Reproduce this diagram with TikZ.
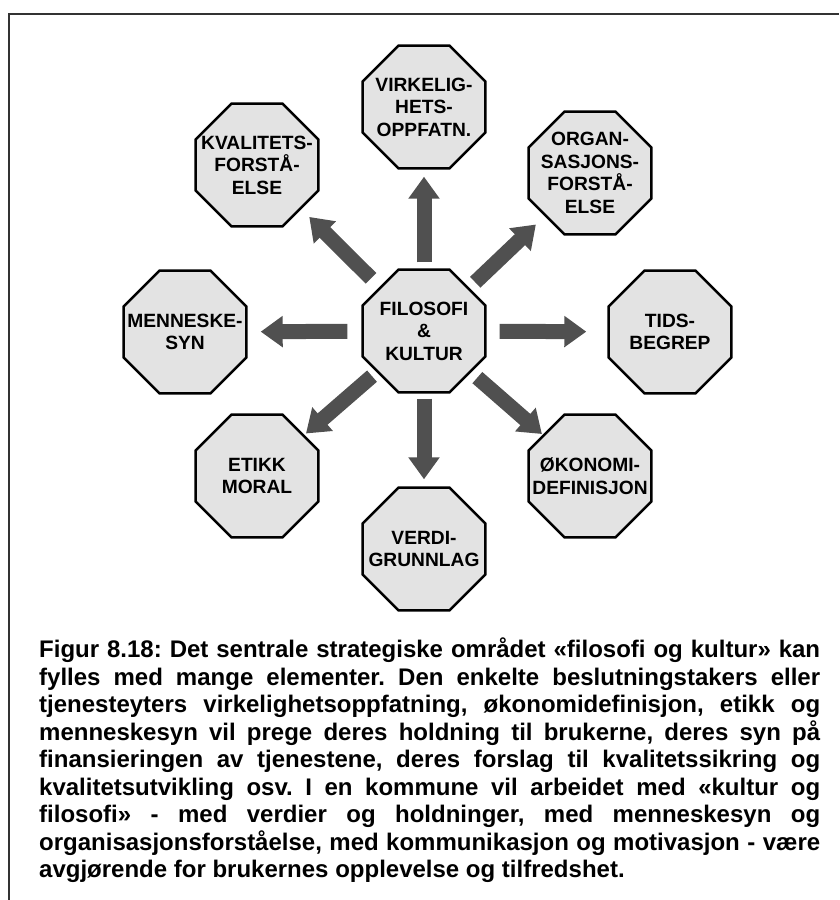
\documentclass[tikz,border=0pt]{standalone}
\usepackage{fontspec}
\setmainfont{Liberation Sans}
\usetikzlibrary{shapes.geometric,arrows.meta}
\definecolor{pilgraa}{HTML}{505050}
\definecolor{oktgraa}{HTML}{E3E3E3}
\frenchspacing
\begin{document}
\begin{tikzpicture}[x=1pt,y=-1pt,
  okt/.style={regular polygon, regular polygon sides=8, minimum size=133pt, inner sep=0pt, draw=black, line width=2.5pt, fill=oktgraa},
  etikett/.style={font=\fontsize{19.2}{22.5}\selectfont\bfseries, align=center, inner sep=0pt},
  pil/.style={draw=pilgraa, line width=15pt, -{Triangle[width=30pt,length=22pt]}},
  tekst/.style={font={\fontsize{24}{27.5}\selectfont\bfseries\tolerance=10000\hyphenpenalty=10000}, text width=781pt, align=justify, inner sep=0pt}]
\useasboundingbox (0,0) rectangle (839,900);
\draw[line width=2pt, black!80] (9,900) -- (9,14) -- (839,14);
\node[okt] (filo) at (424,331) {};
\node[okt] (virk) at (424,107) {};
\node[okt] (kval) at (257,165) {};
\node[okt] (org) at (590,173) {};
\node[okt] (menn) at (185,332) {};
\node[okt] (tids) at (670,332) {};
\node[okt] (etikk) at (257,476) {};
\node[okt] (okon) at (590,476) {};
\node[okt] (verdi) at (424,549) {};
\node[etikett] (filo-t) at (filo) {FILOSOFI\\\&\\KULTUR};
\node[etikett] (virk-t) at (virk) {VIRKELIG-\\HETS-\\OPPFATN.};
\node[etikett] (kval-t) at (kval) {KVALITETS-\\FORSTÅ-\\ELSE};
\node[etikett] (org-t) at (org) {ORGAN-\\SASJONS-\\FORSTÅ-\\ELSE};
\node[etikett] (menn-t) at (menn) {MENNESKE-\\SYN};
\node[etikett] (tids-t) at (tids) {TIDS-\\BEGREP};
\node[etikett] (etikk-t) at (etikk) {ETIKK\\MORAL};
\node[etikett] (okon-t) at (okon) {ØKONOMI-\\DEFINISJON};
\node[etikett] (verdi-t) at (verdi) {VERDI-\\GRUNNLAG};
\draw[pil, shorten <=6pt, shorten >=7pt] (filo) -- (virk);
\draw[pil, shorten <=12pt, shorten >=11pt] (filo) -- (kval);
\draw[pil, shorten <=8pt, shorten >=12pt] (filo) -- (org);
\draw[pil, shorten <=14pt, shorten >=13pt] (filo) -- (menn);
\draw[pil, shorten <=13pt, shorten >=21pt] (filo) -- (tids);
\draw[pil, shorten <=6pt, shorten >=2pt] (filo) -- (etikk);
\draw[pil, shorten <=8pt, shorten >=1pt] (filo) -- (okon);
\draw[pil, shorten <=5pt, shorten >=7pt] (filo) -- (verdi);
\node[tekst, anchor=north west] (figur) at (39,638) {Figur 8.18: Det sentrale strategiske området «filosofi og kultur» kan\linebreak
fylles med mange elementer. Den enkelte beslutningstakers eller\linebreak
tjenesteyters virkelighetsoppfatning, økonomidefinisjon, etikk og\linebreak
menneskesyn vil prege deres holdning til brukerne, deres syn på\linebreak
finansieringen av tjenestene, deres forslag til kvalitetssikring og\linebreak
kvalitetsutvikling osv. I en kommune vil arbeidet med «kultur og\linebreak
filosofi» - med verdier og holdninger, med menneskesyn og\linebreak
organisasjonsforståelse, med kommunikasjon og motivasjon - være\linebreak
avgjørende for brukernes opplevelse og tilfredshet.};
\end{tikzpicture}
\end{document}
